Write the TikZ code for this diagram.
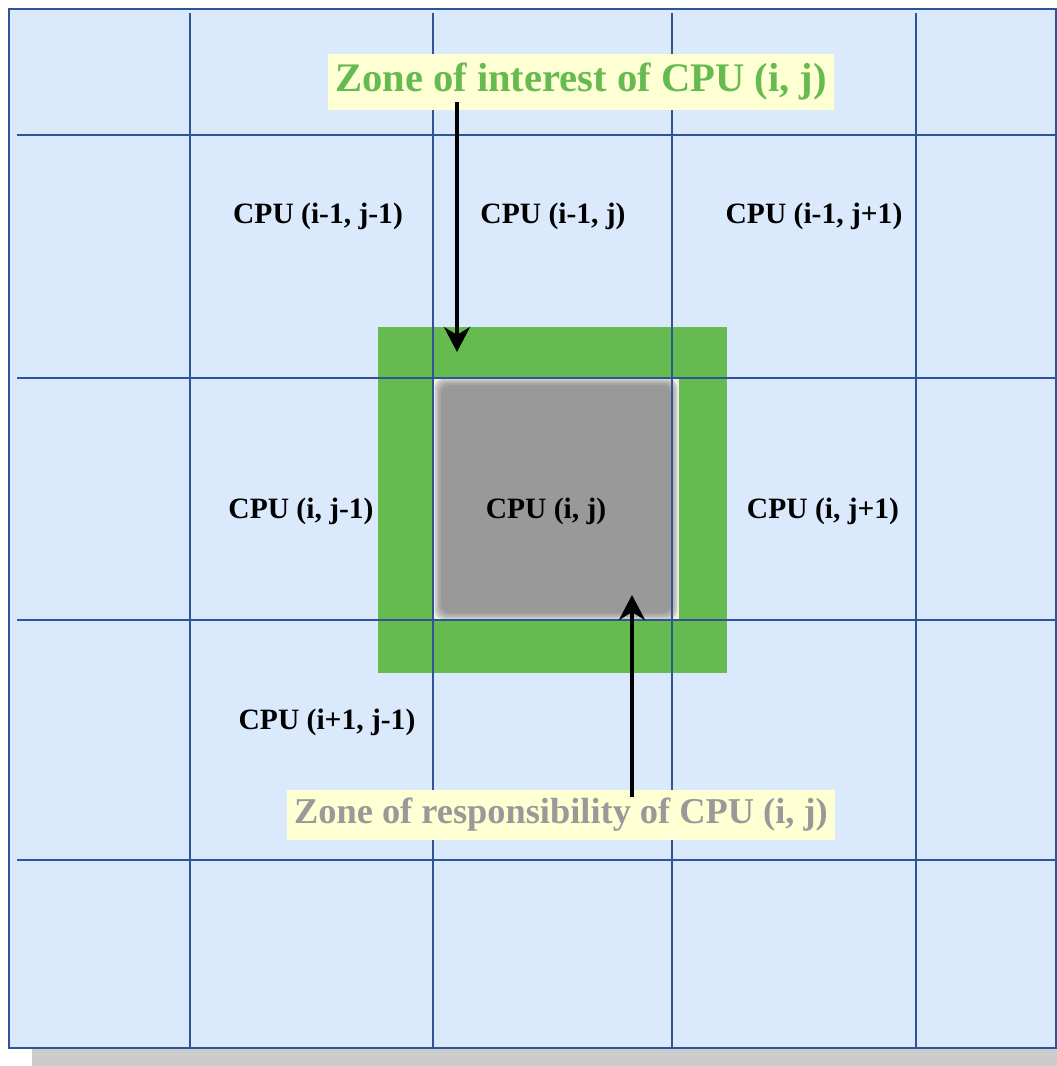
\documentclass[tikz,border=0pt]{standalone}
\usepackage{fontspec}
\setmainfont{Liberation Serif}
\usetikzlibrary{arrows.meta}
\definecolor{Sky}{HTML}{DAEAFC}
\definecolor{Navy}{HTML}{2F5597}
\definecolor{Leaf}{HTML}{66BB50}
\definecolor{Ash}{HTML}{999999}
\definecolor{Halo}{HTML}{EEEDE2}
\definecolor{Cream}{HTML}{FFFFD4}
\definecolor{Shade}{HTML}{CCCCCC}

\begin{document}
\begin{tikzpicture}[x=.02cm,y=-.02cm,
    cpu/.style={font=\fontsize{16.8pt}{20pt}\selectfont\bfseries},
    zone/.style={fill=Cream,inner xsep=4.2pt,inner ysep=0pt},
    pointer/.style={line width=2.3pt,-{Stealth[length=5mm,width=5.2mm,inset=1.6mm]}}]
  \useasboundingbox(0,0)rectangle(1057,1066);
  \fill[Shade](32,1030)rectangle(1057,1066);
  \draw[Navy,line width=1.5pt,fill=Sky](9,9)rectangle(1056,1048);
  % zone of interest
  \fill[Leaf](378,327)rectangle(727,673);
  % zone of responsibility, soft edge
  \fill[Halo](433,377)rectangle(679,621);
  \foreach \d/\p in {2/40,4/65,6/85,8/100}
    \fill[Ash!\p!Halo,rounded corners=5pt](433+\d,377+\d)rectangle(679-\d,621-\d);
  % grid of CPUs
  \foreach \x in {190,433,672,916}
    \draw[Navy,line width=1.35pt](\x,13)--(\x,1048);
  \foreach \y in {135,378,620,860}
    \draw[Navy,line width=1.35pt](17,\y)--(1056,\y);
  \node[cpu](cpuNW)at(318,216){CPU (i-1, j-1)};
  \node[cpu](cpuN)at(553,216){CPU (i-1, j)};
  \node[cpu](cpuNE)at(814,216){CPU (i-1, j+1)};
  \node[cpu](cpuW)at(301,511){CPU (i, j-1)};
  \node[cpu](cpuC)at(546,511){CPU (i, j)};
  \node[cpu](cpuE)at(823,511){CPU (i, j+1)};
  \node[cpu](cpuSW)at(327,722){CPU (i+1, j-1)};
  % zone captions
  \node[zone,minimum height=1.12cm,text=Leaf,font=\fontsize{23.1pt}{26pt}\selectfont\bfseries]
    (interest)at(581,82){Zone of interest of CPU (i, j)};
  \node[zone,minimum height=1cm,text=Ash,font=\fontsize{20.7pt}{24pt}\selectfont\bfseries]
    (resp)at(561,815){Zone of responsibility of CPU (i, j)};
  \coordinate(interestTip)at(457,352);
  \coordinate(respTip)at(632,595);
  \draw[pointer]([yshift=.16cm]interest.south -| interestTip)--(interestTip);
  \draw[pointer]([yshift=-.14cm]resp.north -| respTip)--(respTip);
\end{tikzpicture}
\end{document}
